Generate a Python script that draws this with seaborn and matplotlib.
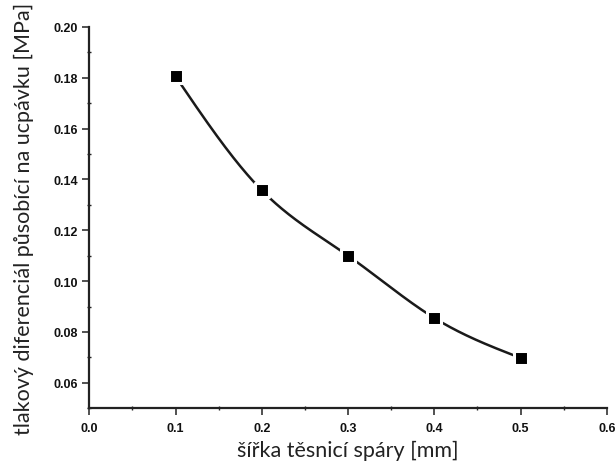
import numpy as np
import pandas as pd
import seaborn as sns
import matplotlib
matplotlib.use("Agg")
import matplotlib.pyplot as plt
from matplotlib.ticker import MultipleLocator, FormatStrFormatter

# gap width [mm] and pressure differential acting on the packing [MPa]
gap_width = [0.1, 0.2, 0.3, 0.4, 0.5]
pressure_diff = [0.1805, 0.1357, 0.1100, 0.0855, 0.0698]

x_ticks = [0.0, 0.1, 0.2, 0.3, 0.4, 0.5, 0.6]
y_ticks = [0.06, 0.08, 0.10, 0.12, 0.14, 0.16, 0.18, 0.20]

x_label = "šířka těsnicí spáry [mm]"
y_label = "tlakový diferenciál působící na ucpávku [MPa]"


def natural_spline(x, y, n=300):
    """Smooth connecting curve (natural cubic spline) through the measured points."""
    x = np.asarray(x, float)
    y = np.asarray(y, float)
    k = len(x)
    h = np.diff(x)
    A = np.zeros((k, k))
    b = np.zeros(k)
    A[0, 0] = A[-1, -1] = 1.0
    for i in range(1, k - 1):
        A[i, i - 1] = h[i - 1]
        A[i, i] = 2 * (h[i - 1] + h[i])
        A[i, i + 1] = h[i]
        b[i] = 6 * ((y[i + 1] - y[i]) / h[i] - (y[i] - y[i - 1]) / h[i - 1])
    m = np.linalg.solve(A, b)
    xs = np.linspace(x[0], x[-1], n)
    idx = np.clip(np.searchsorted(x, xs) - 1, 0, k - 2)
    x0, x1 = x[idx], x[idx + 1]
    y0, y1 = y[idx], y[idx + 1]
    m0, m1 = m[idx], m[idx + 1]
    hh = x1 - x0
    t1 = x1 - xs
    t0 = xs - x0
    ys = (m0 * t1 ** 3 + m1 * t0 ** 3) / (6 * hh) \
        + (y0 / hh - m0 * hh / 6) * t1 + (y1 / hh - m1 * hh / 6) * t0
    return xs, ys


sns.set_theme(style="ticks")
plt.rcParams["font.family"] = ["Liberation Sans", "DejaVu Sans"]

df = pd.DataFrame({"gap": gap_width, "dp": pressure_diff})

fig = plt.figure(figsize=(6.16, 4.64), dpi=100)
ax = fig.add_axes([0.145, 0.118, 0.840, 0.822])

cx, cy = natural_spline(df["gap"], df["dp"])
ax.plot(cx, cy, color="#1a1a1a", lw=1.8, zorder=2)

sns.scatterplot(data=df, x="gap", y="dp", ax=ax, marker="s", s=90,
                color="black", edgecolor="white", linewidth=2.2, zorder=3)

ax.set_xlim(0.0, 0.6)
ax.set_ylim(0.05, 0.20)
ax.set_xticks(x_ticks)
ax.set_yticks(y_ticks)
ax.xaxis.set_major_formatter(FormatStrFormatter("%.1f"))
ax.yaxis.set_major_formatter(FormatStrFormatter("%.2f"))
ax.xaxis.set_minor_locator(MultipleLocator(0.05))
ax.yaxis.set_minor_locator(MultipleLocator(0.01))

for side in ["top", "right"]:
    ax.spines[side].set_visible(False)
for side in ["left", "bottom"]:
    ax.spines[side].set_linewidth(1.6)
    ax.spines[side].set_color("#222222")

ax.tick_params(axis="both", which="major", direction="out", length=5, width=1.1,
               color="#222222", pad=3, labelsize=9, labelcolor="#111111")
ax.tick_params(axis="x", which="major", pad=5)
ax.tick_params(axis="both", which="minor", direction="inout", length=3, width=1.0,
               color="#222222")
for lab in ax.get_xticklabels() + ax.get_yticklabels():
    lab.set_fontweight("bold")

ax.set_xlabel(x_label, fontsize=15.5, family=["Lato", "DejaVu Sans"], color="#222222",
              labelpad=4)
ax.set_ylabel(y_label, fontsize=15.5, family=["Lato", "DejaVu Sans"], color="#222222",
              labelpad=14)
ax.grid(False)

fig.savefig("out.png", dpi=100, facecolor="white")
